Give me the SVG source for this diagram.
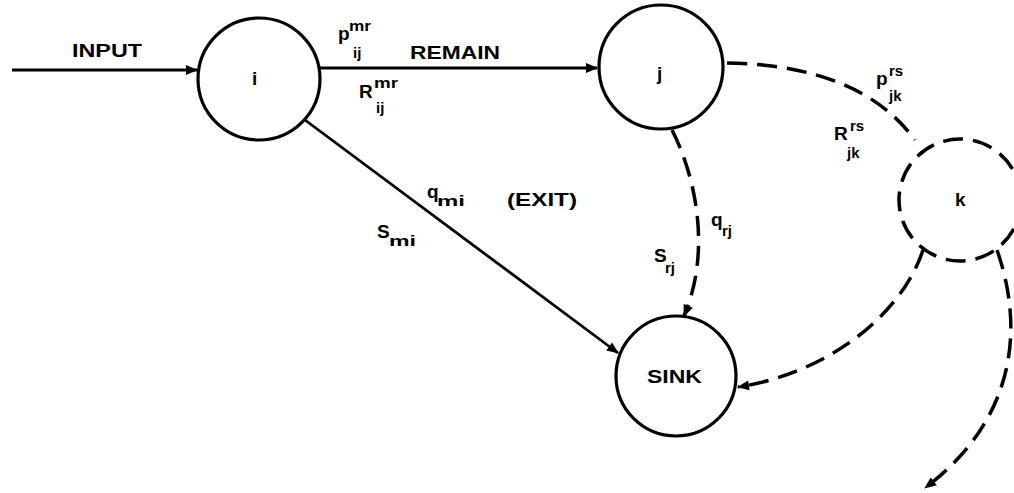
<svg xmlns="http://www.w3.org/2000/svg" width="1014" height="493" viewBox="0 0 1014 493">
  <style>
    .node { fill: none; stroke: #000; stroke-width: 3.2; }
    .dash { stroke-dasharray: 20 10; stroke-width: 3.5; }
    .edge { fill: none; stroke: #000; stroke-width: 2.8; }
    .dedge { fill: none; stroke: #000; stroke-width: 3.5; stroke-dasharray: 20 10; }
    text { font-family: "Liberation Sans", Arial, sans-serif; font-weight: bold; fill: #000; }
    .lbl { font-size: 18px; }
    .sym { font-size: 19px; }
    .idx { font-size: 15px; }
  </style>
  <defs>
    <marker id="arrow" viewBox="0 0 12 10" refX="11" refY="5" markerWidth="13" markerHeight="10" markerUnits="userSpaceOnUse" orient="auto">
      <path d="M0,0 L12,5 L0,10 Z" fill="#000"/>
    </marker>
  </defs>
  <rect width="1014" height="493" fill="#fff"/>

  <!-- connectors -->
  <g id="connectors">
    <path class="edge" d="M12,70 L197,70" marker-end="url(#arrow)"/>
    <path class="edge" d="M320,68 L597,68" marker-end="url(#arrow)"/>
    <path class="edge" d="M305,120 L618,353" marker-end="url(#arrow)"/>
    <path class="dedge" d="M727,63 Q860,65 915,140"/>
    <path class="dedge" d="M672,130 C695,175 712,250 684,316" marker-end="url(#arrow)"/>
    <path class="dedge" d="M923,250 C900,320 820,375 738,387" marker-end="url(#arrow)"/>
    <path class="dedge" d="M997,250 C1025,330 1015,420 925,488" marker-end="url(#arrow)"/>
  </g>

  <!-- nodes -->
  <g id="node-i">
    <circle class="node" cx="259" cy="79" r="61"/>
    <text class="sym" x="252" y="85">i</text>
  </g>
  <g id="node-j">
    <circle class="node" cx="661" cy="67" r="62"/>
    <text class="sym" x="657" y="80">j</text>
  </g>
  <g id="node-k">
    <circle class="node dash" cx="960" cy="200" r="61"/>
    <text class="sym" x="955" y="206">k</text>
  </g>
  <g id="node-sink">
    <circle class="node" cx="676" cy="376" r="60"/>
    <text class="lbl" x="647" y="383" textLength="55" lengthAdjust="spacingAndGlyphs">SINK</text>
  </g>

  <!-- edge labels -->
  <g id="labels">
    <text class="lbl" x="72" y="57" textLength="70" lengthAdjust="spacingAndGlyphs">INPUT</text>
    <text class="lbl" x="410" y="59" textLength="90" lengthAdjust="spacingAndGlyphs">REMAIN</text>
    <text class="lbl" x="507" y="206" textLength="70" lengthAdjust="spacingAndGlyphs">(EXIT)</text>

    <text class="sym" x="338" y="40">p</text>
    <text class="idx" x="349" y="31" textLength="22" lengthAdjust="spacingAndGlyphs">mr</text>
    <text class="idx" x="353" y="58">ij</text>

    <text class="sym" x="359" y="98">R</text>
    <text class="idx" x="374" y="88" textLength="24" lengthAdjust="spacingAndGlyphs">mr</text>
    <text class="idx" x="376" y="113">ij</text>

    <text class="sym" x="876" y="85">p</text>
    <text class="idx" x="889" y="76">rs</text>
    <text class="idx" x="889" y="101">jk</text>

    <text class="sym" x="834" y="140">R</text>
    <text class="idx" x="850" y="131">rs</text>
    <text class="idx" x="847" y="158">jk</text>

    <text class="sym" x="711" y="226">q</text>
    <text class="idx" x="722" y="236">rj</text>

    <text class="sym" x="654" y="262">S</text>
    <text class="idx" x="665" y="273">rj</text>

    <text class="sym" x="427" y="198">q</text>
    <text class="idx" x="437" y="206" textLength="28" lengthAdjust="spacingAndGlyphs">mi</text>

    <text class="sym" x="377" y="238">S</text>
    <text class="idx" x="389" y="246" textLength="27" lengthAdjust="spacingAndGlyphs">mi</text>
  </g>
</svg>
